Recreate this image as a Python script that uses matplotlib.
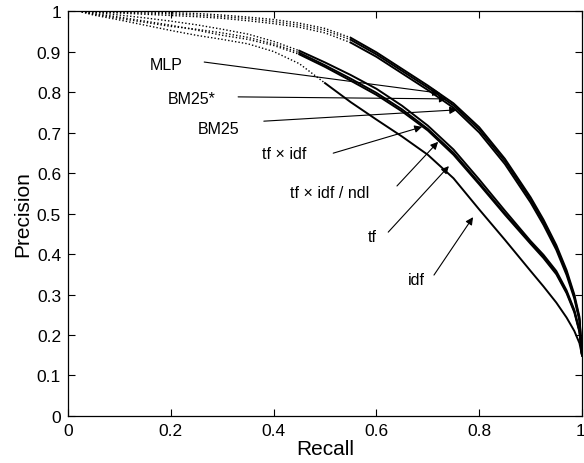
import matplotlib
matplotlib.use("Agg")
import matplotlib.pyplot as plt
import matplotlib.transforms as mtransforms
import numpy as np

# recall grid shared by all curves
recall = [0.02, 0.05, 0.1, 0.15, 0.2, 0.25, 0.3, 0.35, 0.4, 0.45, 0.5, 0.55,
          0.6, 0.65, 0.7, 0.75, 0.8, 0.85, 0.9, 0.925, 0.95, 0.97, 0.985,
          0.995, 1.0]

prec_mlp = [1.0, 1.0, 0.999, 0.998, 0.996, 0.994, 0.99, 0.985, 0.979, 0.97,
            0.957, 0.934, 0.898, 0.857, 0.816, 0.772, 0.713, 0.635, 0.54,
            0.485, 0.422, 0.36, 0.3, 0.245, 0.15]
prec_bm25s = [1.0, 0.999, 0.997, 0.995, 0.993, 0.99, 0.986, 0.981, 0.974,
              0.965, 0.952, 0.929, 0.893, 0.852, 0.811, 0.767, 0.707, 0.629,
              0.534, 0.479, 0.416, 0.354, 0.295, 0.24, 0.15]
prec_bm25 = [1.0, 0.998, 0.995, 0.992, 0.989, 0.986, 0.982, 0.976, 0.969,
             0.96, 0.946, 0.922, 0.887, 0.846, 0.805, 0.761, 0.7, 0.622,
             0.527, 0.472, 0.41, 0.348, 0.29, 0.235, 0.15]
prec_tfidf = [1.0, 0.997, 0.99, 0.983, 0.975, 0.966, 0.955, 0.943, 0.925,
              0.902, 0.873, 0.842, 0.808, 0.766, 0.717, 0.658, 0.584, 0.507,
              0.432, 0.398, 0.358, 0.31, 0.262, 0.212, 0.15]
prec_ndl = [1.0, 0.994, 0.985, 0.975, 0.965, 0.953, 0.94, 0.93, 0.915,
            0.893, 0.862, 0.828, 0.793, 0.752, 0.705, 0.645, 0.572, 0.497,
            0.425, 0.39, 0.35, 0.303, 0.256, 0.207, 0.15]
prec_tf = [1.0, 0.992, 0.982, 0.972, 0.962, 0.955, 0.946, 0.935, 0.919,
           0.897, 0.866, 0.833, 0.798, 0.757, 0.709, 0.65, 0.576, 0.5,
           0.428, 0.393, 0.353, 0.306, 0.259, 0.21, 0.15]
prec_idf = [1.0, 0.99, 0.978, 0.965, 0.952, 0.94, 0.93, 0.919, 0.9, 0.87,
            0.822, 0.775, 0.732, 0.69, 0.645, 0.587, 0.51, 0.435, 0.358, 0.32,
            0.28, 0.243, 0.21, 0.18, 0.15]

labels = ["MLP", "BM25*", "BM25", "tf \u00d7 idf", "tf \u00d7 idf / ndl", "tf", "idf"]
series = [prec_mlp, prec_bm25s, prec_bm25, prec_tfidf, prec_ndl, prec_tf, prec_idf]
# recall from which each curve is drawn solid (dotted before)
solid_from = [0.55, 0.55, 0.55, 0.45, 0.45, 0.45, 0.5]

# label text position, arrow tail, arrow head (data coords)
label_pos = [(0.16, 0.869), (0.195, 0.783), (0.253, 0.709), (0.377, 0.649),
             (0.432, 0.553), (0.584, 0.442), (0.661, 0.338)]
arrow_tail = [(0.265, 0.874), (0.331, 0.788), (0.381, 0.728), (0.516, 0.649),
              (0.640, 0.568), (0.623, 0.454), (0.712, 0.348)]
arrow_head = [(0.724, 0.797), (0.737, 0.783), (0.757, 0.756), (0.689, 0.714),
              (0.720, 0.677), (0.741, 0.617), (0.788, 0.491)]

plt.rcParams["font.family"] = ["Liberation Sans", "DejaVu Sans"]

fig = plt.figure(figsize=(5.84, 4.64), dpi=100)
ax = fig.add_axes([0.1164, 0.1013, 0.8802, 0.8728])

r = np.array(recall)
for prec, cut in zip(series, solid_from):
    p = np.array(prec)
    k = int(np.searchsorted(r, cut))
    ax.plot(r[:k + 1], p[:k + 1], color="k", lw=1.0, linestyle=(0, (1, 1.5)))
    ax.plot(r[k:], p[k:], color="k", lw=1.4)

for lab, pos, tail, head in zip(labels, label_pos, arrow_tail, arrow_head):
    ax.text(pos[0], pos[1], lab, fontsize=11.5, ha="left", va="center")
    ax.annotate("", xy=head, xytext=tail,
                arrowprops=dict(arrowstyle="-|>", color="k", lw=0.8,
                                mutation_scale=11, shrinkA=0, shrinkB=0))

ax.set_xlim(0, 1)
ax.set_ylim(0, 1)
ax.set_xticks(np.arange(0, 1.01, 0.2))
ax.set_xticklabels(["0", "0.2", "0.4", "0.6", "0.8", "1"])
ax.set_yticks(np.arange(0, 1.01, 0.1))
ax.set_yticklabels(["0", "0.1", "0.2", "0.3", "0.4", "0.5", "0.6", "0.7",
                    "0.8", "0.9", "1"])
ax.tick_params(direction="in", top=True, right=True, length=5, width=0.8,
               labelsize=12.5, pad=5)
# keep the last x label inside the figure edge
last = ax.get_xticklabels()[-1]
last.set_horizontalalignment("right")
last.set_transform(last.get_transform() +
                   mtransforms.ScaledTranslation(2.5 / 72, 0, fig.dpi_scale_trans))
for sp in ax.spines.values():
    sp.set_linewidth(0.9)
ax.set_xlabel("Recall", fontsize=15, labelpad=1)
ax.set_ylabel("Precision", fontsize=15, labelpad=3)

fig.savefig("out.png", dpi=100)
